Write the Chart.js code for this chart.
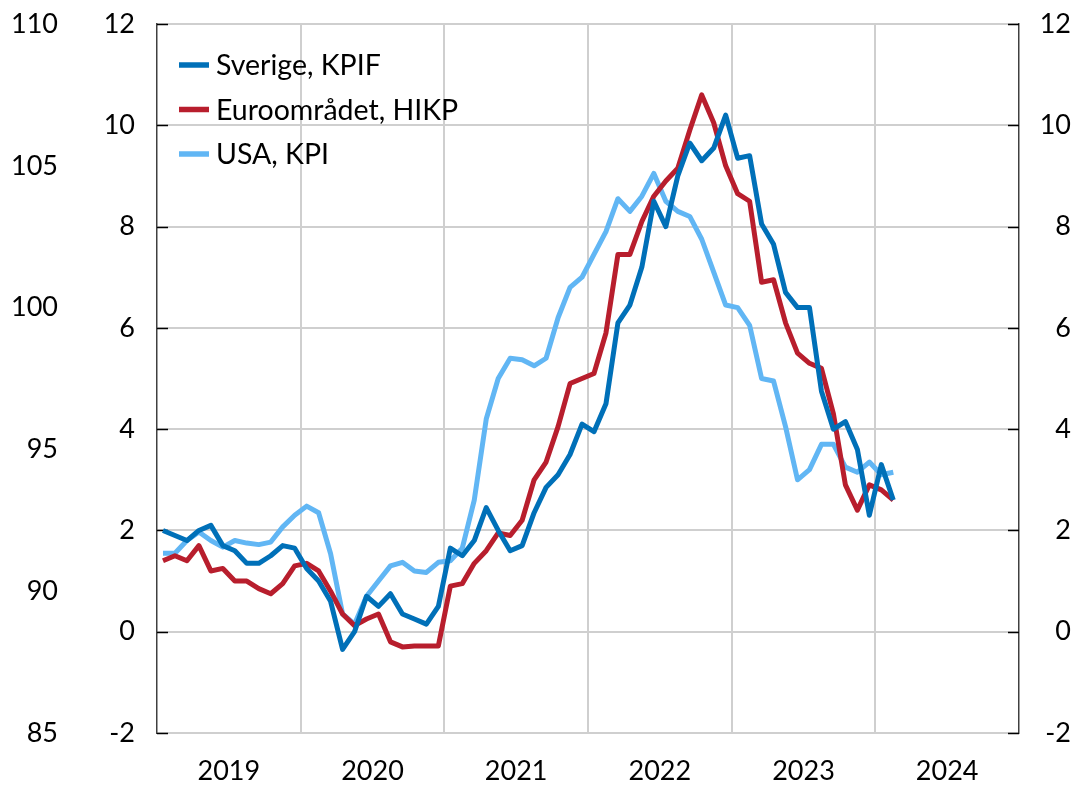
<!DOCTYPE html>
<html>
<head>
<meta charset="utf-8">
<script src="https://cdn.jsdelivr.net/npm/chart.js@4.4.1/dist/chart.umd.min.js"></script>
<style>
html,body{margin:0;padding:0;background:#fff;}
#wrap{width:1076px;height:786px;position:relative;}
</style>
</head>
<body>
<div id="wrap"><canvas id="c" width="1076" height="786"></canvas></div>
<script>
// ---- data (monthly, Jan 2019 .. Feb 2024), yearly percentage change ----
const years = ['2019', '2020', '2021', '2022', '2023', '2024'];
const seriesNames = ['Sverige, KPIF', 'Euroområdet, HIKP', 'USA, KPI'];

const sverige = [
  2.0, 1.9, 1.8, 2.0, 2.1, 1.7, 1.6, 1.35, 1.35, 1.5, 1.7, 1.65,
  1.25, 1.0, 0.6, -0.35, 0.0, 0.7, 0.5, 0.75, 0.35, 0.25, 0.15, 0.5,
  1.65, 1.5, 1.8, 2.45, 2.0, 1.6, 1.7, 2.35, 2.85, 3.1, 3.5, 4.1,
  3.95, 4.5, 6.1, 6.45, 7.2, 8.5, 8.0, 9.0, 9.65, 9.3, 9.55, 10.2,
  9.35, 9.4, 8.05, 7.65, 6.7, 6.4, 6.4, 4.75, 4.0, 4.15, 3.6, 2.3,
  3.3, 2.6
];
const euro = [
  1.4, 1.5, 1.4, 1.7, 1.2, 1.25, 1.0, 1.0, 0.85, 0.75, 0.95, 1.3,
  1.35, 1.2, 0.8, 0.35, 0.12, 0.25, 0.35, -0.2, -0.3, -0.28, -0.28, -0.28,
  0.9, 0.95, 1.35, 1.6, 1.95, 1.9, 2.2, 3.0, 3.35, 4.05, 4.9, 5.0,
  5.1, 5.9, 7.45, 7.45, 8.1, 8.6, 8.9, 9.15, 9.9, 10.6, 10.05, 9.2,
  8.65, 8.5, 6.9, 6.95, 6.1, 5.5, 5.3, 5.2, 4.3, 2.9, 2.4, 2.9,
  2.8, 2.6
];
const usa = [
  1.55, 1.55, 1.8, 1.97, 1.8, 1.67, 1.8, 1.75, 1.72, 1.77, 2.07, 2.3,
  2.48, 2.35, 1.54, 0.35, 0.15, 0.7, 1.0, 1.3, 1.37, 1.2, 1.17, 1.37,
  1.4, 1.65, 2.6, 4.2, 5.0, 5.4, 5.37, 5.25, 5.4, 6.2, 6.8, 7.0,
  7.45, 7.9, 8.55, 8.3, 8.6, 9.05, 8.5, 8.3, 8.2, 7.75, 7.1, 6.45,
  6.4, 6.05, 5.0, 4.95, 4.05, 3.0, 3.2, 3.7, 3.7, 3.25, 3.15, 3.35,
  3.1, 3.15
];

const leftTicks = [-2, 0, 2, 4, 6, 8, 10, 12];
const outerTicks = [85, 90, 95, 100, 105, 110];

const colors = ['#0070b8', '#b81e2d', '#61b6f4'];
const FONT = 'Lato';

// month index -> position in the middle of its month on the linear time axis
function toPoints(arr) { return arr.map((v, i) => ({ x: i + 0.5, y: v })); }

function noVPad(s) { s.paddingTop = 0; s.paddingBottom = 0; }

const insideTicks = {
  id: 'insideTicks',
  beforeDatasetsDraw(chart) {
    const ctx = chart.ctx, ca = chart.chartArea;
    const sl = chart.scales.y, sr = chart.scales.yR;
    ctx.save();
    ctx.strokeStyle = '#000';
    ctx.lineWidth = 1.5;
    leftTicks.forEach(t => {
      const py = Math.round(sl.getPixelForValue(t)) + 0.5;
      ctx.beginPath(); ctx.moveTo(ca.left, py); ctx.lineTo(ca.left + 11, py); ctx.stroke();
      const pr = Math.round(sr.getPixelForValue(t)) + 0.5;
      ctx.beginPath(); ctx.moveTo(ca.right - 11, pr); ctx.lineTo(ca.right, pr); ctx.stroke();
    });
    ctx.restore();
  }
};

const lineLegend = {
  id: 'lineLegend',
  afterDraw(chart) {
    const ctx = chart.ctx;
    ctx.save();
    chart.data.datasets.forEach((ds, i) => {
      const y = 65 + i * 44.5;
      ctx.strokeStyle = ds.borderColor;
      ctx.lineWidth = 5.5;
      ctx.lineCap = 'butt';
      ctx.beginPath(); ctx.moveTo(179, y); ctx.lineTo(209, y); ctx.stroke();
      ctx.fillStyle = '#000';
      ctx.font = '28.5px ' + FONT;
      ctx.textBaseline = 'middle';
      ctx.textAlign = 'left';
      ctx.fillText(ds.label, 216, y + 1);
    });
    ctx.restore();
  }
};

new Chart(document.getElementById('c'), {
  type: 'line',
  data: {
    datasets: [
      { label: seriesNames[0], data: toPoints(sverige), borderColor: colors[0], backgroundColor: colors[0], xAxisID: 'x', yAxisID: 'y' },
      { label: seriesNames[1], data: toPoints(euro), borderColor: colors[1], backgroundColor: colors[1], xAxisID: 'x', yAxisID: 'y' },
      { label: seriesNames[2], data: toPoints(usa), borderColor: colors[2], backgroundColor: colors[2], xAxisID: 'x', yAxisID: 'y' }
    ]
  },
  options: {
    responsive: false,
    animation: false,
    layout: { padding: { left: 0, right: 5, top: 24, bottom: 0 } },
    elements: {
      line: { borderWidth: 5, tension: 0, borderJoinStyle: 'round', borderCapStyle: 'butt' },
      point: { radius: 0, hoverRadius: 0 }
    },
    plugins: { legend: { display: false }, tooltip: { enabled: false } },
    scales: {
      x: {
        type: 'linear', position: 'bottom', min: 0, max: 72,
        afterFit(s) { s.height = 53; s.paddingLeft = 0; s.paddingRight = 0; },
        grid: {
          drawTicks: false,
          lineWidth: 2,
          color: (c) => (c.tick && c.tick.value % 12 === 0 && c.tick.value > 0 && c.tick.value < 72) ? '#cfcfcf' : 'rgba(0,0,0,0)'
        },
        border: { display: false },
        ticks: {
          stepSize: 6, autoSkip: false, maxRotation: 0, padding: 22,
          color: '#000', font: { family: FONT, size: 27 },
          callback: (v) => (v % 12 === 6) ? years[(v - 6) / 12] : ''
        }
      },
      yOuter: {
        type: 'linear', position: 'left', min: 85, max: 110, weight: 10,
        afterFit(s) { s.width = 80; noVPad(s); },
        grid: { display: false, drawTicks: false },
        border: { display: false },
        ticks: {
          stepSize: 5, padding: 22, color: '#000', font: { family: FONT, size: 27 },
          callback: (v) => outerTicks.includes(v) ? String(v) : ''
        }
      },
      y: {
        type: 'linear', position: 'left', min: -2, max: 12, weight: 0,
        afterFit(s) { s.width = 77; noVPad(s); },
        grid: { color: '#cfcfcf', lineWidth: 2, drawTicks: false },
        border: { display: true, color: '#404040', width: 1.5 },
        ticks: {
          stepSize: 2, padding: 22, color: '#000', font: { family: FONT, size: 27 },
          callback: (v) => leftTicks.includes(v) ? String(v) : ''
        }
      },
      yR: {
        type: 'linear', position: 'right', min: -2, max: 12,
        afterFit(s) { s.width = 52; noVPad(s); },
        grid: { display: false, drawTicks: false },
        border: { display: true, color: '#404040', width: 1.5 },
        ticks: {
          stepSize: 2, padding: 20, crossAlign: 'far', color: '#000', font: { family: FONT, size: 27 },
          callback: (v) => leftTicks.includes(v) ? String(v) : ''
        }
      }
    }
  },
  plugins: [insideTicks, lineLegend]
});
</script>
</body>
</html>
